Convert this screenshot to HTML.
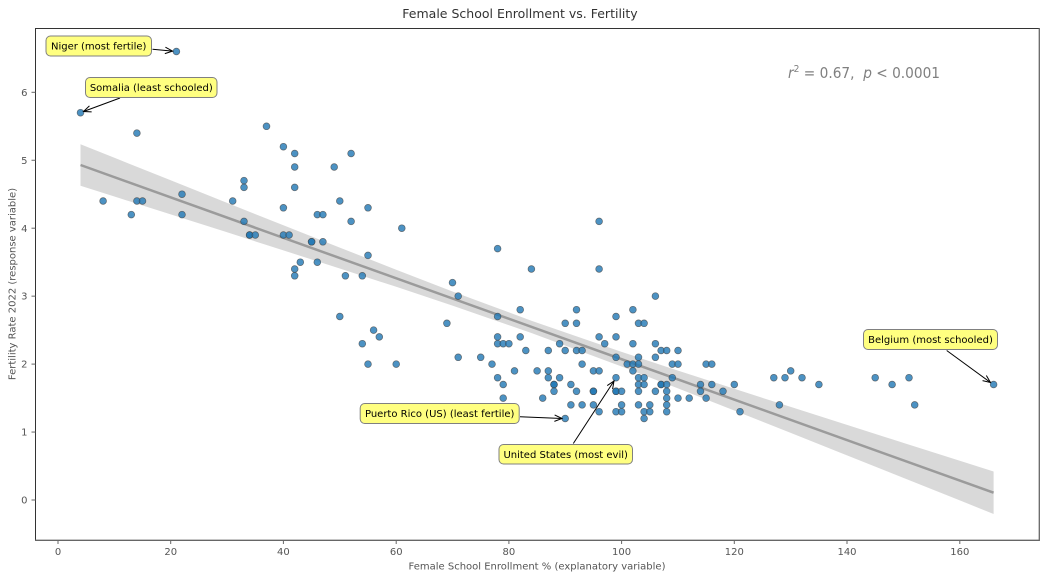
<!DOCTYPE html>
<html>
<head>
<meta charset="utf-8">
<style>
  html,body{margin:0;padding:0;background:#fff;}
  svg{display:block;}
  text{font-family:"DejaVu Sans","Liberation Sans",sans-serif;}
</style>
</head>
<body>
<svg width="1046" height="578" viewBox="0 0 1046 578" xmlns="http://www.w3.org/2000/svg">
  <defs>
    <marker id="ah" markerUnits="userSpaceOnUse" markerWidth="10" markerHeight="8" refX="8" refY="4" orient="auto" viewBox="0 0 10 8">
      <path d="M0.5,0.8 L8,4 L0.5,7.2" fill="none" stroke="#000" stroke-width="1"/>
    </marker>
  </defs>
  <rect width="1046" height="578" fill="#fff"/>

  <!-- title -->
  <text x="520" y="18" font-size="12.5" fill="#333" text-anchor="middle">Female School Enrollment vs. Fertility</text>

  <!-- confidence band -->
  <path fill="#d9d9d9" stroke="none" d="M80.5,144.2 L114.4,157.8 L170.7,180.3 L227.1,202.9 L283.4,225.3 L339.8,247.6 L396.2,269.7 L452.5,291.5 L531.4,320.7 L621.6,351.9 L678.0,370.6 L734.3,388.8 L790.7,406.9 L847.0,424.9 L903.4,442.9 L959.8,460.7 L993.6,471.5 L993.6,514.0 L959.8,500.4 L903.4,477.9 L847.0,455.4 L790.7,432.9 L734.3,410.5 L678.0,388.4 L621.6,366.5 L531.4,333.0 L452.5,305.6 L396.2,286.8 L339.8,268.5 L283.4,250.4 L227.1,232.3 L170.7,214.4 L114.4,196.5 L80.5,185.8 Z"/>
  <!-- regression line -->
  <line x1="80.5" y1="165.0" x2="993.6" y2="492.7" stroke="#9b9b9b" stroke-width="2.5"/>

  <!-- points -->
  <g fill="#1f77b4" fill-opacity="0.8" stroke="#444" stroke-opacity="0.7" stroke-width="0.7">
    <circle cx="80.5" cy="112.7" r="3.4"/>
    <circle cx="176.4" cy="51.5" r="3.4"/>
    <circle cx="136.9" cy="133.1" r="3.4"/>
    <circle cx="266.5" cy="126.3" r="3.4"/>
    <circle cx="283.4" cy="146.7" r="3.4"/>
    <circle cx="294.7" cy="153.5" r="3.4"/>
    <circle cx="351.1" cy="153.5" r="3.4"/>
    <circle cx="294.7" cy="167.0" r="3.4"/>
    <circle cx="334.2" cy="167.0" r="3.4"/>
    <circle cx="244.0" cy="180.6" r="3.4"/>
    <circle cx="244.0" cy="187.4" r="3.4"/>
    <circle cx="294.7" cy="187.4" r="3.4"/>
    <circle cx="103.1" cy="201.0" r="3.4"/>
    <circle cx="136.9" cy="201.0" r="3.4"/>
    <circle cx="142.5" cy="201.0" r="3.4"/>
    <circle cx="182.0" cy="194.2" r="3.4"/>
    <circle cx="182.0" cy="214.6" r="3.4"/>
    <circle cx="131.3" cy="214.6" r="3.4"/>
    <circle cx="232.7" cy="201.0" r="3.4"/>
    <circle cx="283.4" cy="207.8" r="3.4"/>
    <circle cx="339.8" cy="201.0" r="3.4"/>
    <circle cx="368.0" cy="207.8" r="3.4"/>
    <circle cx="317.3" cy="214.6" r="3.4"/>
    <circle cx="322.9" cy="214.6" r="3.4"/>
    <circle cx="351.1" cy="221.4" r="3.4"/>
    <circle cx="244.0" cy="221.4" r="3.4"/>
    <circle cx="249.6" cy="235.0" r="3.4"/>
    <circle cx="249.6" cy="235.0" r="3.4"/>
    <circle cx="255.3" cy="235.0" r="3.4"/>
    <circle cx="283.4" cy="235.0" r="3.4"/>
    <circle cx="289.1" cy="235.0" r="3.4"/>
    <circle cx="311.6" cy="241.8" r="3.4"/>
    <circle cx="311.6" cy="241.8" r="3.4"/>
    <circle cx="322.9" cy="241.8" r="3.4"/>
    <circle cx="368.0" cy="255.4" r="3.4"/>
    <circle cx="300.3" cy="262.2" r="3.4"/>
    <circle cx="317.3" cy="262.2" r="3.4"/>
    <circle cx="294.7" cy="269.0" r="3.4"/>
    <circle cx="294.7" cy="275.8" r="3.4"/>
    <circle cx="345.4" cy="275.8" r="3.4"/>
    <circle cx="362.3" cy="275.8" r="3.4"/>
    <circle cx="401.8" cy="228.2" r="3.4"/>
    <circle cx="339.8" cy="316.5" r="3.4"/>
    <circle cx="373.6" cy="330.1" r="3.4"/>
    <circle cx="379.3" cy="336.9" r="3.4"/>
    <circle cx="362.3" cy="343.7" r="3.4"/>
    <circle cx="368.0" cy="364.1" r="3.4"/>
    <circle cx="396.2" cy="364.1" r="3.4"/>
    <circle cx="452.5" cy="282.6" r="3.4"/>
    <circle cx="458.2" cy="296.1" r="3.4"/>
    <circle cx="446.9" cy="323.3" r="3.4"/>
    <circle cx="458.2" cy="357.3" r="3.4"/>
    <circle cx="480.7" cy="357.3" r="3.4"/>
    <circle cx="492.0" cy="364.1" r="3.4"/>
    <circle cx="497.6" cy="248.6" r="3.4"/>
    <circle cx="497.6" cy="316.5" r="3.4"/>
    <circle cx="497.6" cy="336.9" r="3.4"/>
    <circle cx="497.6" cy="343.7" r="3.4"/>
    <circle cx="503.2" cy="343.7" r="3.4"/>
    <circle cx="508.9" cy="343.7" r="3.4"/>
    <circle cx="497.6" cy="377.7" r="3.4"/>
    <circle cx="514.5" cy="370.9" r="3.4"/>
    <circle cx="520.2" cy="309.7" r="3.4"/>
    <circle cx="520.2" cy="336.9" r="3.4"/>
    <circle cx="525.8" cy="350.5" r="3.4"/>
    <circle cx="531.4" cy="269.0" r="3.4"/>
    <circle cx="537.1" cy="370.9" r="3.4"/>
    <circle cx="548.3" cy="350.5" r="3.4"/>
    <circle cx="548.3" cy="370.9" r="3.4"/>
    <circle cx="548.3" cy="377.7" r="3.4"/>
    <circle cx="559.6" cy="343.7" r="3.4"/>
    <circle cx="559.6" cy="377.7" r="3.4"/>
    <circle cx="565.2" cy="323.3" r="3.4"/>
    <circle cx="565.2" cy="350.5" r="3.4"/>
    <circle cx="576.5" cy="309.7" r="3.4"/>
    <circle cx="576.5" cy="323.3" r="3.4"/>
    <circle cx="576.5" cy="350.5" r="3.4"/>
    <circle cx="582.1" cy="350.5" r="3.4"/>
    <circle cx="582.1" cy="364.1" r="3.4"/>
    <circle cx="593.4" cy="370.9" r="3.4"/>
    <circle cx="599.1" cy="370.9" r="3.4"/>
    <circle cx="599.1" cy="221.4" r="3.4"/>
    <circle cx="599.1" cy="269.0" r="3.4"/>
    <circle cx="599.1" cy="336.9" r="3.4"/>
    <circle cx="604.7" cy="343.7" r="3.4"/>
    <circle cx="616.0" cy="316.5" r="3.4"/>
    <circle cx="616.0" cy="336.9" r="3.4"/>
    <circle cx="616.0" cy="357.3" r="3.4"/>
    <circle cx="616.0" cy="377.7" r="3.4"/>
    <circle cx="632.9" cy="309.7" r="3.4"/>
    <circle cx="638.5" cy="323.3" r="3.4"/>
    <circle cx="644.1" cy="323.3" r="3.4"/>
    <circle cx="632.9" cy="343.7" r="3.4"/>
    <circle cx="638.5" cy="357.3" r="3.4"/>
    <circle cx="627.2" cy="364.1" r="3.4"/>
    <circle cx="632.9" cy="364.1" r="3.4"/>
    <circle cx="638.5" cy="364.1" r="3.4"/>
    <circle cx="632.9" cy="370.9" r="3.4"/>
    <circle cx="638.5" cy="377.7" r="3.4"/>
    <circle cx="655.4" cy="357.3" r="3.4"/>
    <circle cx="672.3" cy="364.1" r="3.4"/>
    <circle cx="678.0" cy="364.1" r="3.4"/>
    <circle cx="706.1" cy="364.1" r="3.4"/>
    <circle cx="711.8" cy="364.1" r="3.4"/>
    <circle cx="644.1" cy="377.7" r="3.4"/>
    <circle cx="672.3" cy="377.7" r="3.4"/>
    <!-- 1.7 row -->
    <circle cx="503.2" cy="384.5" r="3.4"/>
    <circle cx="554.0" cy="384.5" r="3.4"/>
    <circle cx="554.0" cy="384.5" r="3.4"/>
    <circle cx="570.9" cy="384.5" r="3.4"/>
    <circle cx="638.5" cy="384.5" r="3.4"/>
    <circle cx="644.1" cy="384.5" r="3.4"/>
    <circle cx="661.1" cy="384.5" r="3.4"/>
    <circle cx="661.1" cy="384.5" r="3.4"/>
    <circle cx="666.7" cy="384.5" r="3.4"/>
    <circle cx="700.5" cy="384.5" r="3.4"/>
    <circle cx="711.8" cy="384.5" r="3.4"/>
    <circle cx="734.3" cy="384.5" r="3.4"/>
    <!-- 1.6 row -->
    <circle cx="554.0" cy="391.3" r="3.4"/>
    <circle cx="576.5" cy="391.3" r="3.4"/>
    <circle cx="593.4" cy="391.3" r="3.4"/>
    <circle cx="593.4" cy="391.3" r="3.4"/>
    <circle cx="616.0" cy="391.3" r="3.4"/>
    <circle cx="616.0" cy="391.3" r="3.4"/>
    <circle cx="621.6" cy="391.3" r="3.4"/>
    <circle cx="638.5" cy="391.3" r="3.4"/>
    <circle cx="655.4" cy="391.3" r="3.4"/>
    <circle cx="666.7" cy="391.3" r="3.4"/>
    <circle cx="700.5" cy="391.3" r="3.4"/>
    <circle cx="723.0" cy="391.3" r="3.4"/>
    <!-- 1.5 row -->
    <circle cx="503.2" cy="398.1" r="3.4"/>
    <circle cx="542.7" cy="398.1" r="3.4"/>
    <circle cx="666.7" cy="398.1" r="3.4"/>
    <circle cx="678.0" cy="398.1" r="3.4"/>
    <circle cx="689.2" cy="398.1" r="3.4"/>
    <circle cx="706.1" cy="398.1" r="3.4"/>
    <!-- 1.4 row -->
    <circle cx="570.9" cy="404.9" r="3.4"/>
    <circle cx="582.1" cy="404.9" r="3.4"/>
    <circle cx="593.4" cy="404.9" r="3.4"/>
    <circle cx="621.6" cy="404.9" r="3.4"/>
    <circle cx="638.5" cy="404.9" r="3.4"/>
    <circle cx="649.8" cy="404.9" r="3.4"/>
    <circle cx="666.7" cy="404.9" r="3.4"/>
    <!-- 1.3 row -->
    <circle cx="599.1" cy="411.7" r="3.4"/>
    <circle cx="616.0" cy="411.7" r="3.4"/>
    <circle cx="621.6" cy="411.7" r="3.4"/>
    <circle cx="644.1" cy="411.7" r="3.4"/>
    <circle cx="649.8" cy="411.7" r="3.4"/>
    <circle cx="666.7" cy="411.7" r="3.4"/>
    <circle cx="740.0" cy="411.7" r="3.4"/>
    <!-- 1.2 row -->
    <circle cx="565.2" cy="418.5" r="3.4"/>
    <circle cx="644.1" cy="418.5" r="3.4"/>
    <!-- misc -->
    <circle cx="655.4" cy="296.1" r="3.4"/>
    <circle cx="655.4" cy="343.7" r="3.4"/>
    <circle cx="661.1" cy="350.5" r="3.4"/>
    <circle cx="666.7" cy="350.5" r="3.4"/>
    <circle cx="678.0" cy="350.5" r="3.4"/>
    <!-- right tail -->
    <circle cx="773.8" cy="377.7" r="3.4"/>
    <circle cx="785.0" cy="377.7" r="3.4"/>
    <circle cx="790.7" cy="370.9" r="3.4"/>
    <circle cx="802.0" cy="377.7" r="3.4"/>
    <circle cx="818.9" cy="384.5" r="3.4"/>
    <circle cx="779.4" cy="404.9" r="3.4"/>
    <circle cx="875.2" cy="377.7" r="3.4"/>
    <circle cx="892.1" cy="384.5" r="3.4"/>
    <circle cx="909.0" cy="377.7" r="3.4"/>
    <circle cx="914.7" cy="404.9" r="3.4"/>
    <circle cx="993.6" cy="384.5" r="3.4"/>
  </g>

  <!-- spines -->
  <line x1="35.5" y1="28.5" x2="1039.5" y2="28.5" stroke="#333" stroke-width="1"/>
  <line x1="35.5" y1="28" x2="35.5" y2="541" stroke="#333" stroke-width="1"/>
  <line x1="35" y1="540.3" x2="1039.5" y2="540.3" stroke="#666" stroke-width="1.3"/>
  <line x1="1039.3" y1="28" x2="1039.3" y2="541" stroke="#666" stroke-width="1.3"/>

  <!-- y ticks -->
  <g stroke="#666" stroke-width="1">
    <line x1="31.5" y1="500" x2="35.5" y2="500"/>
    <line x1="31.5" y1="432.05" x2="35.5" y2="432.05"/>
    <line x1="31.5" y1="364.1" x2="35.5" y2="364.1"/>
    <line x1="31.5" y1="296.15" x2="35.5" y2="296.15"/>
    <line x1="31.5" y1="228.2" x2="35.5" y2="228.2"/>
    <line x1="31.5" y1="160.25" x2="35.5" y2="160.25"/>
    <line x1="31.5" y1="92.3" x2="35.5" y2="92.3"/>
  </g>
  <g font-size="10" fill="#555" text-anchor="end">
    <text x="27.5" y="503.6">0</text>
    <text x="27.5" y="435.6">1</text>
    <text x="27.5" y="367.7">2</text>
    <text x="27.5" y="299.7">3</text>
    <text x="27.5" y="231.8">4</text>
    <text x="27.5" y="163.8">5</text>
    <text x="27.5" y="95.9">6</text>
  </g>

  <!-- x ticks -->
  <g stroke="#666" stroke-width="1">
    <line x1="58" y1="540" x2="58" y2="544"/>
    <line x1="170.7" y1="540" x2="170.7" y2="544"/>
    <line x1="283.4" y1="540" x2="283.4" y2="544"/>
    <line x1="396.2" y1="540" x2="396.2" y2="544"/>
    <line x1="508.9" y1="540" x2="508.9" y2="544"/>
    <line x1="621.6" y1="540" x2="621.6" y2="544"/>
    <line x1="734.3" y1="540" x2="734.3" y2="544"/>
    <line x1="847.0" y1="540" x2="847.0" y2="544"/>
    <line x1="959.8" y1="540" x2="959.8" y2="544"/>
  </g>
  <g font-size="10" fill="#555" text-anchor="middle">
    <text x="58" y="555">0</text>
    <text x="170.7" y="555">20</text>
    <text x="283.4" y="555">40</text>
    <text x="396.2" y="555">60</text>
    <text x="508.9" y="555">80</text>
    <text x="621.6" y="555">100</text>
    <text x="734.3" y="555">120</text>
    <text x="847.0" y="555">140</text>
    <text x="959.8" y="555">160</text>
  </g>

  <!-- axis labels -->
  <text x="537" y="569.5" font-size="10" fill="#555" text-anchor="middle">Female School Enrollment % (explanatory variable)</text>
  <text transform="translate(15.5,284) rotate(-90)" font-size="10" fill="#555" text-anchor="middle">Fertility Rate 2022 (response variable)</text>

  <!-- r2 annotation -->
  <text x="788" y="78" font-size="15" fill="#808080" textLength="152" lengthAdjust="spacingAndGlyphs" style="white-space:pre"><tspan font-style="italic">r</tspan><tspan font-size="10" dy="-6">2</tspan><tspan dy="6"> = 0.67,  </tspan><tspan font-style="italic">p</tspan><tspan> &lt; 0.0001</tspan></text>

  <!-- annotation arrows -->
  <g stroke="#000" stroke-width="1" fill="none" marker-end="url(#ah)">
    <line x1="152.5" y1="49.3" x2="172.6" y2="51.1"/>
    <line x1="120" y1="98" x2="83.5" y2="111.5"/>
    <line x1="520" y1="416.7" x2="562" y2="418.5"/>
    <line x1="573.3" y1="443.5" x2="614" y2="381"/>
    <line x1="946.7" y1="350.5" x2="990.5" y2="382.5"/>
  </g>

  <!-- annotation boxes -->
  <g fill="#ffff80" stroke="#808080" stroke-width="1">
    <rect x="46" y="36" width="105.5" height="20" rx="4.5"/>
    <rect x="85.5" y="77.5" width="131.5" height="20" rx="4.5"/>
    <rect x="360.2" y="403.5" width="159" height="20" rx="4.5"/>
    <rect x="499" y="444.5" width="133.5" height="19.5" rx="4.5"/>
    <rect x="863.5" y="329.5" width="134" height="20" rx="4.5"/>
  </g>
  <g font-size="10" fill="#000" text-anchor="middle">
    <text x="98.7" y="49.6">Niger (most fertile)</text>
    <text x="151.3" y="91.1">Somalia (least schooled)</text>
    <text x="439.7" y="417.1">Puerto Rico (US) (least fertile)</text>
    <text x="565.7" y="458">United States (most evil)</text>
    <text x="930.5" y="343.2">Belgium (most schooled)</text>
  </g>
</svg>
</body>
</html>
